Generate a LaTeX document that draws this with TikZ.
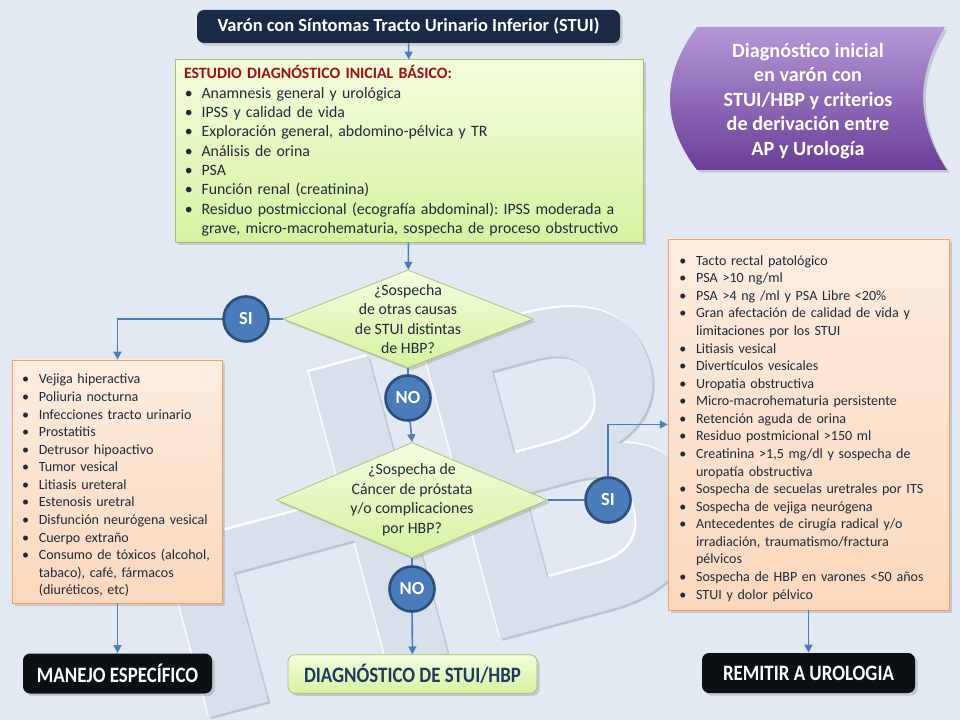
\documentclass[tikz,border=0pt]{standalone}
\usepackage{fontspec}
\setmainfont{Carlito}
\newfontfamily\narrowfont[FakeStretch=0.86]{Carlito}
\usetikzlibrary{shapes.geometric,arrows.meta,shadows,positioning}

\definecolor{bgblue}{HTML}{E2E9F3}
\definecolor{wmfill}{HTML}{D8E0EB}
\definecolor{wmedge}{HTML}{BAC4D1}
\definecolor{navybox}{HTML}{1B2A44}
\definecolor{nearblack}{HTML}{0B1015}
\definecolor{lineblue}{HTML}{4A7EBB}
\definecolor{greentop}{HTML}{F4FDDF}
\definecolor{greenbot}{HTML}{D6F3A0}
\definecolor{greenedge}{HTML}{A3C167}
\definecolor{peachtop}{HTML}{FDEDE0}
\definecolor{peachbot}{HTML}{FBD8BD}
\definecolor{orangeedge}{HTML}{F0A060}
\definecolor{circblue}{HTML}{4A7CB9}
\definecolor{circedge}{HTML}{2B4F7E}
\definecolor{headred}{HTML}{A01010}
\definecolor{bodytext}{HTML}{1E2B3B}
\definecolor{diagtext}{HTML}{1F3864}
\definecolor{purpletop}{HTML}{B497D8}
\definecolor{purplebot}{HTML}{6A3F98}

\newcommand{\bitem}[1]{\par\hangindent=10pt\hangafter=1\noindent\makebox[10pt][l]{\hspace{0.5pt}\textbullet}#1}
\frenchspacing

\begin{document}
\begin{tikzpicture}[
  flowline/.style={draw=lineblue, line width=0.9pt},
  flowarrow/.style={flowline, -{Triangle[length=4.5pt,width=4.5pt]}},
  boxshadow/.style={drop shadow={opacity=0.3, shadow xshift=1.5pt, shadow yshift=-1.5pt}},
  startbox/.style={rectangle, rounded corners=4pt, fill=navybox, text=white, boxshadow,
    font=\bfseries\fontsize{10.5}{12}\selectfont, minimum width=8.46cm, minimum height=0.66cm},
  endbox/.style={rectangle, rounded corners=4pt, fill=nearblack, text=white, boxshadow,
    font=\narrowfont\bfseries\fontsize{12.5}{13}\selectfont, minimum height=0.8cm},
  finalbox/.style={rectangle, rounded corners=4pt, draw=greenedge, top color=greentop, bottom color=greenbot,
    text=diagtext, boxshadow, font=\narrowfont\bfseries\fontsize{12.5}{13}\selectfont, minimum height=0.77cm},
  studybox/.style={rectangle, draw=greenedge, top color=greentop, bottom color=greenbot, boxshadow,
    text=bodytext, text width=9cm, inner xsep=0.18cm, minimum height=3.64cm, align=left,
    font=\fontsize{9}{11}\selectfont},
  causebox/.style={rectangle, draw=orangeedge, top color=peachtop, bottom color=peachbot, boxshadow,
    text=bodytext, align=left, font=\fontsize{8}{10}\selectfont},
  decision/.style={diamond, draw=greenedge, top color=greentop, bottom color=greenbot, boxshadow, inner sep=0pt},
  asktext/.style={align=center, text=bodytext, font=\fontsize{9}{11.1}\selectfont},
  answer/.style={circle, draw=circedge, line width=1.5pt, fill=circblue, text=white, inner sep=0pt,
    minimum size=0.9cm, font=\bfseries\fontsize{10.5}{12}\selectfont},
  wmark/.style={rotate=15, font=\bfseries\fontsize{270}{270}\selectfont}
]
\useasboundingbox (0,0) rectangle (19.2,14.4);
\fill[bgblue] (0,0) rectangle (19.2,14.4);

\begin{scope}
\clip (0,0) rectangle (19.2,14.4);
\node[wmark, text=white] (wmlight) at (10.76,5.04) {HBP};
\node[wmark, text=wmedge] (wmdark) at (10.84,4.96) {HBP};
\node[wmark, text=wmfill] (wm) at (10.8,5.0) {HBP};
\end{scope}

\path[boxshadow, top color=purpletop, bottom color=purplebot]
  (13.94,13.86) -- (18.9,13.86) .. controls (18.31,12.9) and (18.31,11.95) .. (18.94,11.0)
  -- (13.94,11.0) .. controls (13.22,11.95) and (13.22,12.9) .. (13.94,13.86) -- cycle;
\node[align=center, text=white, font=\bfseries\fontsize{11.5}{13.9}\selectfont] (banner) at (16.16,12.38)
  {Diagnóstico inicial\\en varón con\\STUI/HBP y criterios\\de derivación entre\\AP y Urología};

\node[startbox] (start) at (8.17,13.87) {Varón con Síntomas Tracto Urinario Inferior (STUI)};

\node[studybox] (study) at (8.18,11.38) {{\color{headred}\bfseries ESTUDIO DIAGNÓSTICO INICIAL BÁSICO:}
  \bitem{Anamnesis general y urológica}
  \bitem{IPSS y calidad de vida}
  \bitem{Exploración general, abdomino-pélvica y TR}
  \bitem{Análisis de orina}
  \bitem{PSA}
  \bitem{Función renal (creatinina)}
  \bitem{Residuo postmiccional (ecografía abdominal): IPSS moderada a\newline grave, micro-macrohematuria, sospecha de proceso obstructivo}\par};

\node[decision, minimum width=5cm, minimum height=1.96cm] (q1) at (8.16,8.02) {};
\node[asktext] (q1text) at (q1) {¿Sospecha\\de otras causas\\de STUI distintas\\de HBP?};

\node[answer] (si1) at (4.92,8.02) {SI};
\node[answer] (no1) at (8.16,6.44) {NO};

\node[decision, minimum width=5.42cm, minimum height=2.3cm] (q2) at (8.24,4.4) {};
\node[asktext] (q2text) at (q2) {¿Sospecha de\\Cáncer de próstata\\y/o complicaciones\\por HBP?};

\node[answer] (si2) at (12.16,4.4) {SI};
\node[answer] (no2) at (8.24,2.62) {NO};

\node[causebox, text width=3.85cm, inner xsep=0.18cm, minimum height=4.86cm] (otras) at (2.35,4.77) {%
  \bitem{Vejiga hiperactiva}
  \bitem{Poliuria nocturna}
  \bitem{Infecciones tracto urinario}
  \bitem{Prostatitis}
  \bitem{Detrusor hipoactivo}
  \bitem{Tumor vesical}
  \bitem{Litiasis ureteral}
  \bitem{Estenosis uretral}
  \bitem{Disfunción neurógena vesical}
  \bitem{Cuerpo extraño}
  \bitem{Consumo de tóxicos (alcohol,\newline tabaco), café, fármacos\newline (diuréticos, etc)}\par};

\node[causebox, text width=5.2cm, inner xsep=0.21cm, minimum height=7.42cm] (criterios) at (16.17,5.91) {%
  \bitem{Tacto rectal patológico}
  \bitem{PSA >10 ng/ml}
  \bitem{PSA >4 ng /ml y PSA Libre <20\%}
  \bitem{Gran afectación de calidad de vida y\newline limitaciones por los STUI}
  \bitem{Litiasis vesical}
  \bitem{Divertículos vesicales}
  \bitem{Uropatia obstructiva}
  \bitem{Micro-macrohematuria persistente}
  \bitem{Retención aguda de orina}
  \bitem{Residuo postmicional >150 ml}
  \bitem{Creatinina >1,5 mg/dl y sospecha de\newline uropatía obstructiva}
  \bitem{Sospecha de secuelas uretrales por ITS}
  \bitem{Sospecha de vejiga neurógena}
  \bitem{Antecedentes de cirugía radical y/o\newline irradiación, traumatismo/fractura\newline pélvicos}
  \bitem{Sospecha de HBP en varones <50 años}
  \bitem{STUI y dolor pélvico}\par};

\node[endbox, minimum width=3.78cm] (manejo) at (2.35,0.93) {MANEJO ESPECÍFICO};
\node[finalbox, minimum width=4.98cm] (diag) at (8.25,0.92) {DIAGNÓSTICO DE STUI/HBP};
\node[endbox, minimum width=4.26cm] (remitir) at (16.17,0.94) {REMITIR A UROLOGIA};

\draw[flowarrow] (start) -- (study);
\draw[flowarrow] (study) -- (q1);
\draw[flowline] (q1.west) -- (si1);
\draw[flowarrow] (si1.west) -| (otras.north);
\draw[flowline] (q1.south) -- (no1);
\draw[flowarrow] (no1) -- (q2.north);
\draw[flowline] (q2.east) -- (si2);
\draw[flowarrow] (si2.north) |- (criterios.west);
\draw[flowline] (q2.south) -- (no2);
\draw[flowarrow] (no2) -- (diag);
\draw[flowarrow] (otras) -- (manejo);
\draw[flowarrow] (criterios) -- (remitir);
\end{tikzpicture}
\end{document}
